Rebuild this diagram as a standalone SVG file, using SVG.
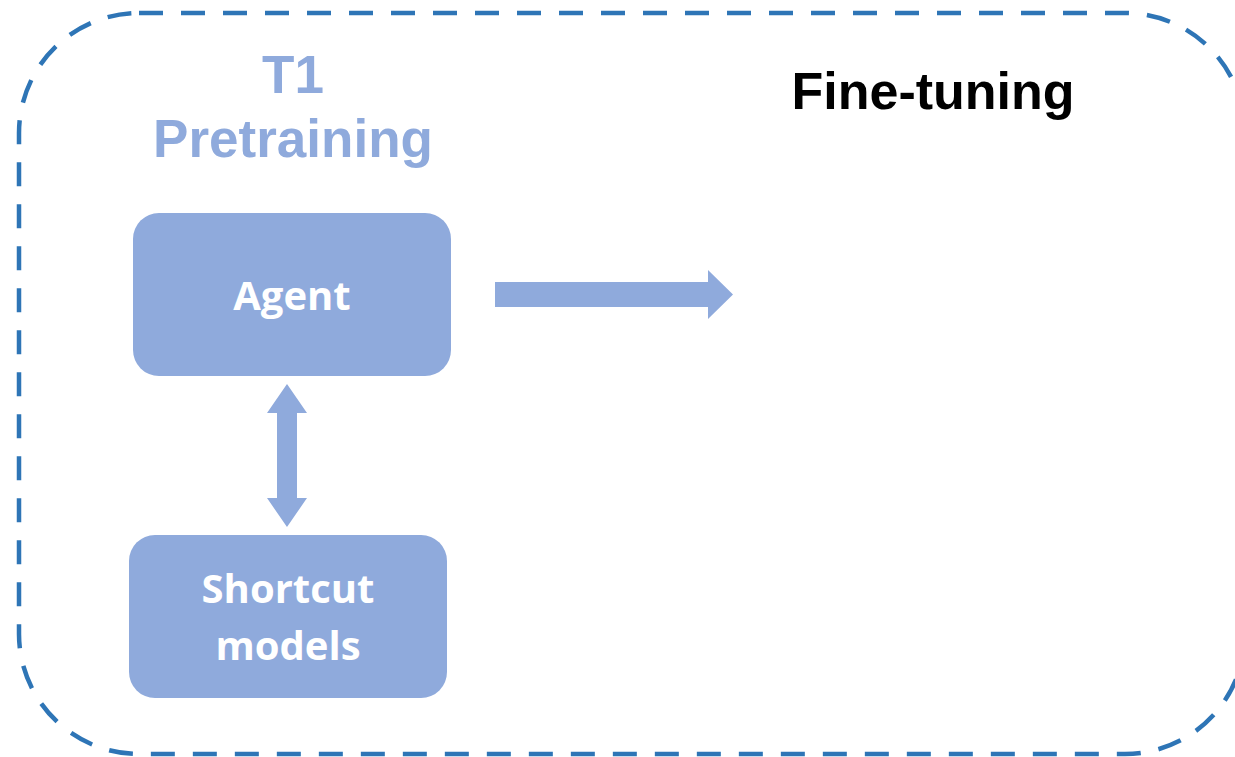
<svg xmlns="http://www.w3.org/2000/svg" width="1235" height="757" viewBox="0 0 1235 757">
<defs>
<style>
.frame{fill:none;stroke:#2E75B6;stroke-width:4.5;stroke-dasharray:24 18}
.box{fill:#8FAADC}
.arrow{fill:#8FAADC}
.lbl{font-family:"Open Sans","Lato",sans-serif;font-weight:bold;fill:#FFFFFF;text-anchor:middle}
.title{font-family:"Liberation Sans",Arial,sans-serif;font-weight:bold;text-anchor:middle}
</style>
</defs>
<rect width="1235" height="757" fill="#FFFFFF"/>
<g id="frame">
<rect class="frame" x="19" y="13" width="1226" height="741" rx="120" ry="120"/>
</g>
<g id="title-pretraining">
<text class="title" x="293" y="93" font-size="53" fill="#8FAADC">T1</text>
<text class="title" x="293" y="157" font-size="53" fill="#8FAADC">Pretraining</text>
</g>
<g id="title-finetuning">
<text class="title" x="933" y="109" font-size="52" fill="#000000">Fine-tuning</text>
</g>
<g id="agent">
<rect class="box" x="133" y="213" width="318" height="163" rx="26" ry="26"/>
<text class="lbl" x="292" y="310" font-size="40">Agent</text>
</g>
<g id="shortcut-models">
<rect class="box" x="129" y="535" width="318" height="163" rx="26" ry="26"/>
<text class="lbl" x="288" y="603" font-size="40">Shortcut</text>
<text class="lbl" x="288" y="660" font-size="40">models</text>
</g>
<g id="connectors">
<polygon class="arrow" points="495,282 708,282 708,270 733,294.5 708,319 708,307 495,307"/>
<polygon class="arrow" points="287,384 307,413 297,413 297,498 307,498 287,527 267,498 277,498 277,413 267,413"/>
</g>
</svg>
